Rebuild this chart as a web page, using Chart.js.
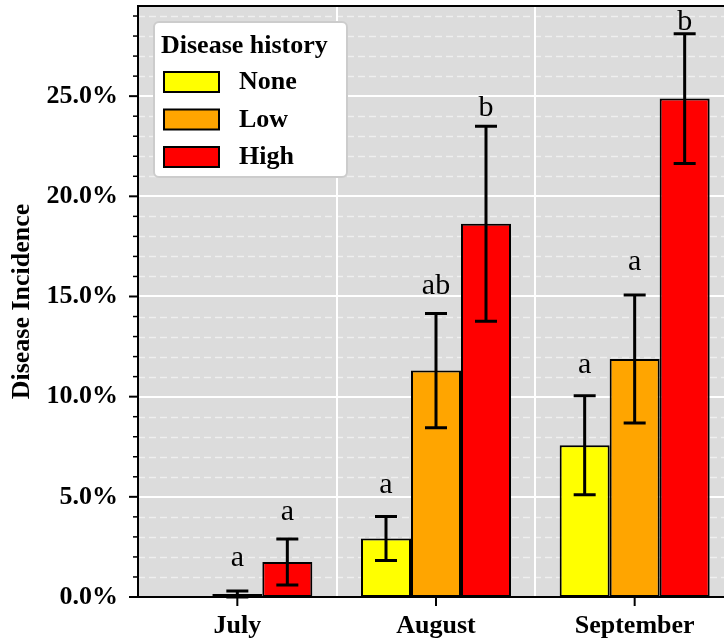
<!DOCTYPE html>
<html>
<head>
<meta charset="utf-8">
<script src="https://cdn.jsdelivr.net/npm/chart.js@4/dist/chart.umd.min.js"></script>
<style>
  html, body { margin: 0; padding: 0; background: #fff; width: 724px; height: 640px; overflow: hidden; }
  canvas { display: block; }
</style>
</head>
<body>
<canvas id="chart" width="734" height="640"></canvas>
<script>
// Sampling months and disease-history groups
const months = ['July', 'August', 'September'];
const historyGroups = ['None', 'Low', 'High'];

// Mean disease incidence (%) per month
const noneIncidence = [0.0, 2.92, 7.58];
const lowIncidence  = [0.15, 11.3, 11.88];
const highIncidence = [1.75, 18.63, 24.88];

// Standard errors (%)
const noneError = [0.0, 1.1, 2.47];
const lowError  = [0.15, 2.85, 3.2];
const highError = [1.15, 4.87, 3.24];

// Significance letters and the incidence level (%) at which each sits
const noneLetters = ['', 'a', 'a'];
const lowLetters  = ['a', 'ab', 'a'];
const highLetters = ['a', 'b', 'b'];
const noneLetterLevel = [null, 5.17, 11.17];
const lowLetterLevel  = [1.55, 15.13, 16.3];
const highLetterLevel = [3.83, 24.0, 28.3];

// Value axis
const yTicks = [0, 5, 10, 15, 20, 25];
const yMinorStep = 1;
const yMax = 29.5;

const groupColors = ['#ffff00', '#ffa500', '#ff0000'];
const SERIF = "'Liberation Serif', 'Times New Roman', 'DejaVu Serif', serif";

const seriesValues = [noneIncidence, lowIncidence, highIncidence];
const seriesErrors = [noneError, lowError, highError];
const seriesLetters = [noneLetters, lowLetters, highLetters];
const seriesLetterLevels = [noneLetterLevel, lowLetterLevel, highLetterLevel];

// Panel background, grid, error bars, letters, spines, tick marks and legend
const decorations = {
  id: 'decorations',
  beforeDatasetsDraw(chart) {
    const { ctx, chartArea: a, scales: { x, y } } = chart;
    ctx.save();
    ctx.fillStyle = '#dcdcdc';
    ctx.fillRect(a.left, a.top, a.right - a.left, a.bottom - a.top);

    // minor dashed grid
    ctx.strokeStyle = 'rgba(255,255,255,0.55)';
    ctx.lineWidth = 1.5;
    ctx.setLineDash([7, 4]);
    for (let v = yMinorStep; v < yMax; v += yMinorStep) {
      if (yTicks.includes(v)) continue;
      const py = Math.round(y.getPixelForValue(v)) + 0.5;
      ctx.beginPath(); ctx.moveTo(a.left, py); ctx.lineTo(a.right, py); ctx.stroke();
    }
    ctx.setLineDash([]);

    // major solid grid
    ctx.strokeStyle = '#ffffff';
    ctx.lineWidth = 2;
    yTicks.forEach(v => {
      const py = Math.round(y.getPixelForValue(v));
      ctx.beginPath(); ctx.moveTo(a.left, py); ctx.lineTo(a.right, py); ctx.stroke();
    });
    for (let i = 1; i < months.length; i++) {
      const px = Math.round((x.getPixelForValue(i - 1) + x.getPixelForValue(i)) / 2);
      ctx.beginPath(); ctx.moveTo(px, a.top); ctx.lineTo(px, a.bottom); ctx.stroke();
    }
    ctx.restore();
  },
  afterDatasetsDraw(chart) {
    const { ctx, chartArea: a, scales: { x, y } } = chart;
    ctx.save();

    // error bars
    ctx.strokeStyle = '#000';
    ctx.lineWidth = 3;
    ctx.lineCap = 'butt';
    seriesValues.forEach((vals, d) => {
      const meta = chart.getDatasetMeta(d);
      vals.forEach((v, i) => {
        const e = seriesErrors[d][i];
        if (!e) return;
        const bx = meta.data[i].x;
        const yt = y.getPixelForValue(v + e);
        const yb = y.getPixelForValue(Math.max(v - e, 0));
        ctx.beginPath();
        ctx.moveTo(bx, yt); ctx.lineTo(bx, yb);
        ctx.moveTo(bx - 11, yt); ctx.lineTo(bx + 11, yt);
        ctx.moveTo(bx - 11, yb); ctx.lineTo(bx + 11, yb);
        ctx.stroke();
      });
    });

    // significance letters
    ctx.fillStyle = '#000';
    ctx.font = `30px ${SERIF}`;
    ctx.textAlign = 'center';
    ctx.textBaseline = 'alphabetic';
    seriesLetters.forEach((letters, d) => {
      const meta = chart.getDatasetMeta(d);
      letters.forEach((t, i) => {
        if (!t) return;
        ctx.fillText(t, meta.data[i].x, y.getPixelForValue(seriesLetterLevels[d][i]));
      });
    });

    // spines
    ctx.strokeStyle = '#000';
    ctx.lineWidth = 2;
    ctx.beginPath();
    ctx.moveTo(a.left, a.bottom); ctx.lineTo(a.left, a.top); ctx.lineTo(a.right, a.top);
    ctx.lineTo(a.right, a.bottom); ctx.closePath();
    ctx.stroke();

    // y tick marks (major and minor)
    for (let v = 0; v <= yMax; v += yMinorStep) {
      const major = yTicks.includes(v);
      const py = y.getPixelForValue(v);
      ctx.lineWidth = major ? 2 : 1.5;
      ctx.beginPath(); ctx.moveTo(a.left, py); ctx.lineTo(a.left - (major ? 9 : 5), py); ctx.stroke();
    }
    // x tick marks
    ctx.lineWidth = 2;
    months.forEach((m, i) => {
      const px = x.getPixelForValue(i);
      ctx.beginPath(); ctx.moveTo(px, a.bottom); ctx.lineTo(px, a.bottom + 9); ctx.stroke();
    });
    ctx.restore();
  },
  afterDraw(chart) {
    const { ctx, chartArea: a } = chart;
    const bx = a.left + 16, by = a.top + 16, bw = 193, bh = 155;
    ctx.save();
    ctx.fillStyle = '#ffffff';
    ctx.strokeStyle = '#cccccc';
    ctx.lineWidth = 2;
    ctx.beginPath();
    ctx.roundRect(bx, by, bw, bh, 5);
    ctx.fill(); ctx.stroke();

    ctx.fillStyle = '#000';
    ctx.font = `bold 26px ${SERIF}`;
    ctx.textAlign = 'left';
    ctx.textBaseline = 'alphabetic';
    ctx.fillText('Disease history', bx + 7, by + 31);

    chart.data.datasets.forEach((ds, i) => {
      const rowY = by + 60 + i * 37.5;
      ctx.fillStyle = ds.backgroundColor;
      ctx.fillRect(bx + 10, rowY - 10, 55, 20);
      ctx.strokeStyle = '#000';
      ctx.lineWidth = 2;
      ctx.strokeRect(bx + 10, rowY - 10, 55, 20);
      ctx.fillStyle = '#000';
      ctx.fillText(ds.label, bx + 85, rowY + 7);
    });
    ctx.restore();
  }
};

new Chart(document.getElementById('chart'), {
  type: 'bar',
  data: {
    labels: months,
    datasets: historyGroups.map((g, i) => ({
      label: g,
      data: seriesValues[i],
      backgroundColor: groupColors[i],
      borderColor: '#000',
      borderWidth: 2,
      borderSkipped: false,
      categoryPercentage: 0.755,
      barPercentage: 1.0
    }))
  },
  options: {
    responsive: false,
    animation: false,
    devicePixelRatio: 1,
    layout: { padding: { top: 6, right: 0, bottom: 0, left: 0 } },
    plugins: { legend: { display: false }, tooltip: { enabled: false } },
    scales: {
      x: {
        grid: { display: false, drawTicks: false },
        border: { display: false },
        ticks: { color: '#000', padding: 14, font: { family: SERIF, weight: 'bold', size: 26 } },
        afterFit(scale) {
          scale.height = 43;
          scale.paddingLeft = 0; scale.paddingRight = 0;
        }
      },
      y: {
        min: 0,
        max: yMax,
        grid: { display: false, drawTicks: false },
        border: { display: false },
        afterBuildTicks(scale) { scale.ticks = yTicks.map(v => ({ value: v })); },
        ticks: {
          color: '#000',
          padding: 20,
          font: { family: SERIF, weight: 'bold', size: 26 },
          callback: v => Number(v).toFixed(1) + '%'
        },
        title: {
          display: true,
          text: 'Disease Incidence',
          color: '#000',
          padding: { top: 7, bottom: 0 },
          font: { family: SERIF, weight: 'bold', size: 26 }
        },
        afterFit(scale) {
          scale.width = 138;
          scale.paddingTop = 0; scale.paddingBottom = 0;
        }
      }
    }
  },
  plugins: [decorations]
});
</script>
</body>
</html>
